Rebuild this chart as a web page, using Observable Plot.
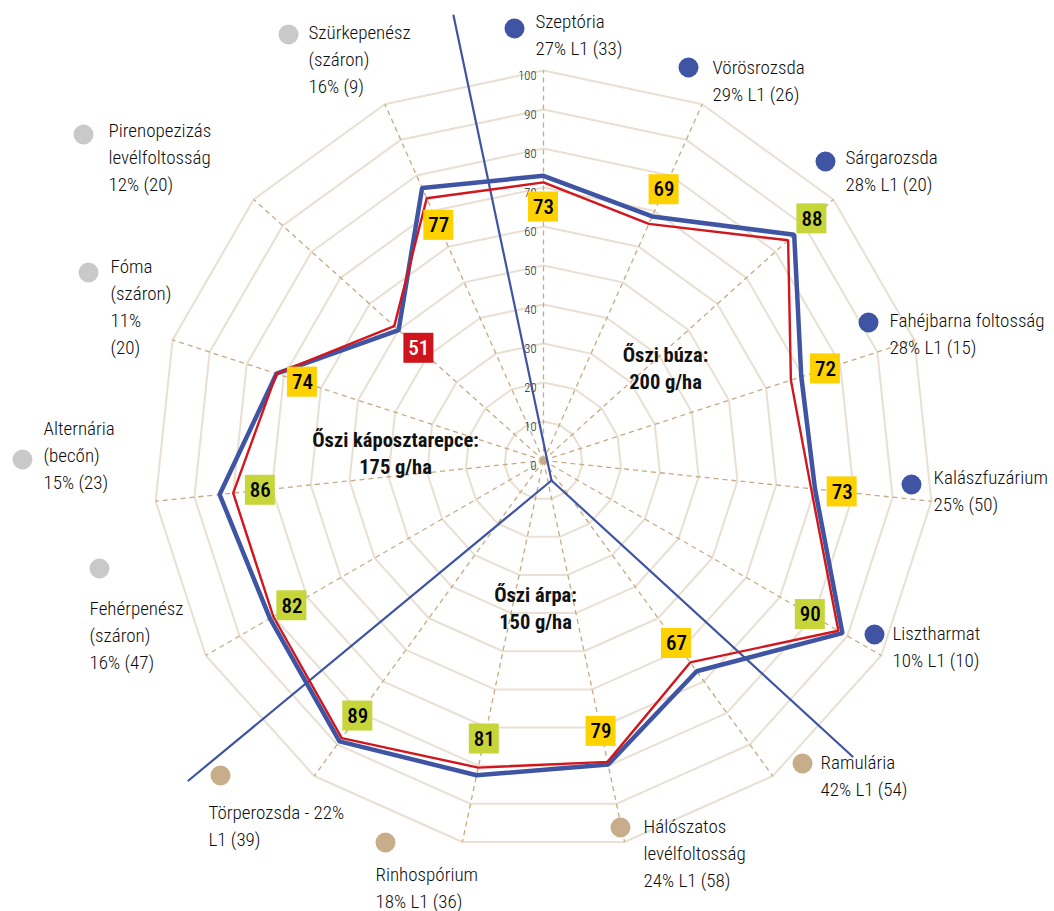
<!DOCTYPE html>
<html><head><meta charset="utf-8">
<script src="https://cdn.jsdelivr.net/npm/d3@7"></script>
<script src="https://cdn.jsdelivr.net/npm/@observablehq/plot@0.6"></script>
<style>
html,body{margin:0;padding:0;background:#fff;}
#chart svg{display:block;}
</style>
</head><body><div id="chart"></div>
<script>
// ---------- DATA ----------
const diseases = ["Szeptória","Vörösrozsda","Sárgarozsda","Fahéjbarna foltosság","Kalászfuzárium","Lisztharmat","Ramulária","Hálószatos levélfoltosság","Rinhospórium","Törperozsda","Fehérpenész","Alternária","Fóma","Pirenopezizás levélfoltosság","Szürkepenész"];
const diseaseLabels = [
  "Szeptória\n27% L1 (33)",
  "Vörösrozsda\n29% L1 (26)",
  "Sárgarozsda\n28% L1 (20)",
  "Fahéjbarna foltosság\n28% L1 (15)",
  "Kalászfuzárium\n25% (50)",
  "Lisztharmat\n10% L1 (10)",
  "Ramulária\n42% L1 (54)",
  "Hálószatos\nlevélfoltosság\n24% L1 (58)",
  "Rinhospórium\n18% L1 (36)",
  "Törperozsda - 22%\nL1 (39)",
  "Fehérpenész\n(száron)\n16% (47)",
  "Alternária\n(becőn)\n15% (23)",
  "Fóma\n(száron)\n11%\n(20)",
  "Pirenopezizás\nlevélfoltosság\n12% (20)",
  "Szürkepenész\n(száron)\n16% (9)"
];
const crops = ["búza","búza","búza","búza","búza","búza","árpa","árpa","árpa","árpa","repce","repce","repce","repce","repce"];
const efficacy = [73,69,88,72,73,90,67,79,81,89,82,86,74,51,77];
const seriesBlue = [73,68.5,86.5,69.5,70,88.5,66.8,79.7,82.5,89,81,83.5,72,50,76.5];
const seriesRed  = [71.3,66.4,84.4,66.7,69,87.3,64,79,80.5,88,80,80,72,51.5,73.6];
const ringTicks = [0,10,20,30,40,50,60,70,80,90,100];
const cropNames = ["búza","árpa","repce"];
const cropTitles = ["Őszi búza:\n200 g/ha","Őszi árpa:\n150 g/ha","Őszi káposztarepce:\n175 g/ha"];

// ---------- LAYOUT ----------
const W = 1054, H = 911;
const CX = 543, CY = 460;        // page px of the centre
const R = 390;                   // px radius of the 100 ring
const n = diseases.length;
const ang = i => i * 2 * Math.PI / n;
const pol = (i, v) => ({x: v / 100 * R * Math.sin(ang(i)), y: v / 100 * R * Math.cos(ang(i))});
const P = (px, py) => ({x: px - CX, y: CY - py}); // page px -> centre-relative units
const badgeRadius = [65,76,92.6,76,77,79,58,71,73,81,74.5,73,65,43,66];
const dotPos = [[514,28],[688,67],[825,161],[868,322],[911,484],[874,634],[802,763],[620,827],[385,842],[220,775],[99,568],[22,459],[88,272],[83,134],[288,34]];
const textPos = [[535,22],[712,68],[845,158],[889,321],[933,478],[892,634],[820,763],[643,827],[375,875],[208,813],[89,609],[43,429],[110,267],[108,131],[308,33]];
const cropTitlePos = [[665,357],[535,597],[395,442]];
const dividerHub = [551,480];
const dividerEnds = [[453,15],[188,780],[852,756]];
const LH = 27; // px line height
const FONT = "'Liberation Sans Narrow','Roboto Condensed','DejaVu Sans Condensed','Arial Narrow',sans-serif";

const dotColor = {"búza":"#3F55A3","árpa":"#C8AD8A","repce":"#C9C9C9"};
const badgeFill = v => v >= 80 ? "#C6D53A" : v >= 60 ? "#FED100" : "#D0141C";
const badgeText = v => v >= 60 ? "#000" : "#fff";

// ---------- DERIVED TABLES ----------
const rings = ringTicks.filter(t => t > 0).flatMap(t => diseases.map((d, i) => ({ring: t, ...pol(i, t)})));
const spokes = diseases.map((d, i) => ({x2: pol(i, 100).x, y2: pol(i, 100).y}));
const series = [
  ...diseases.map((d, i) => ({s: "red", ...pol(i, seriesRed[i])})),
  ...diseases.map((d, i) => ({s: "blue", ...pol(i, seriesBlue[i])}))
];
const badges = efficacy.map((v, i) => ({v, ...pol(i, badgeRadius[i])}));
const labels = diseases.map((d, i) => {
  const lines = diseaseLabels[i].split("\n").length;
  const dp = P(...dotPos[i]);
  const tp = P(textPos[i][0], textPos[i][1] - 3 + (lines - 1) * LH / 2);
  return {d, text: diseaseLabels[i], crop: crops[i], dx: dp.x, dy: dp.y, tx: tp.x, ty: tp.y};
});
const titles = cropNames.map((c, i) => {
  const p = P(cropTitlePos[i][0], cropTitlePos[i][1] + LH / 2 - 4);
  return {text: cropTitles[i], ...p};
});
const hub = P(...dividerHub);
const dividers = dividerEnds.flatMap((e, k) => [{k, ...hub}, {k, ...P(...e)}]);

const chart = Plot.plot({
  width: W, height: H,
  margin: 0,
  x: {domain: [-CX, W - CX], range: [0, W], axis: null},
  y: {domain: [CY - H, CY], range: [H, 0], axis: null},
  style: {fontFamily: FONT, background: "#fff", overflow: "visible"},
  marks: [
    Plot.line(rings, {x: "x", y: "y", z: "ring", curve: "linear-closed", stroke: "#E9DFD2", strokeWidth: 2}),
    Plot.link(spokes, {x1: () => 0, y1: () => 0, x2: "x2", y2: "y2", stroke: "#C8A982", strokeWidth: 1.3, strokeDasharray: "5,4"}),
    Plot.dot([0], {x: () => 0, y: () => 0, r: 3.5, fill: "#C8A982"}),
    Plot.text(ringTicks, {x: () => 0, y: t => t / 100 * R, text: t => String(t), textAnchor: "end", dx: -7, dy: 5, fontSize: 12.5, fontWeight: 300, fill: "#222", fontFamily: FONT}),
    Plot.line(dividers, {x: "x", y: "y", z: "k", stroke: "#3F55A3", strokeWidth: 2.2}),
    Plot.line(series.filter(d => d.s === "blue"), {x: "x", y: "y", curve: "linear-closed", stroke: "#3F55A3", strokeWidth: 4.5, strokeLinejoin: "miter"}),
    Plot.line(series.filter(d => d.s === "red"), {x: "x", y: "y", curve: "linear-closed", stroke: "#D2161D", strokeWidth: 2.4, strokeLinejoin: "miter"}),
    Plot.rect(badges, {x1: d => d.x - 15, x2: d => d.x + 15, y1: d => d.y - 15, y2: d => d.y + 15, fill: d => badgeFill(d.v)}),
    Plot.text(badges, {x: "x", y: "y", text: d => String(d.v), fill: d => badgeText(d.v), fontSize: 21, fontWeight: 500, fontFamily: FONT}),
    Plot.dot(labels, {x: "dx", y: "dy", r: 10, fill: d => dotColor[d.crop]}),
    Plot.text(labels, {x: "tx", y: "ty", text: "text", textAnchor: "start", lineAnchor: "middle", lineHeight: LH / 19, fontSize: 19, fontWeight: 300, fill: "#0d0d0d", fontFamily: FONT}),
    Plot.text(titles, {x: "x", y: "y", text: "text", textAnchor: "middle", lineAnchor: "middle", lineHeight: LH / 20.5, fontSize: 20.5, fontWeight: "bold", fill: "#111", fontFamily: FONT})
  ]
});
document.getElementById("chart").appendChild(chart);
</script>
</body></html>
